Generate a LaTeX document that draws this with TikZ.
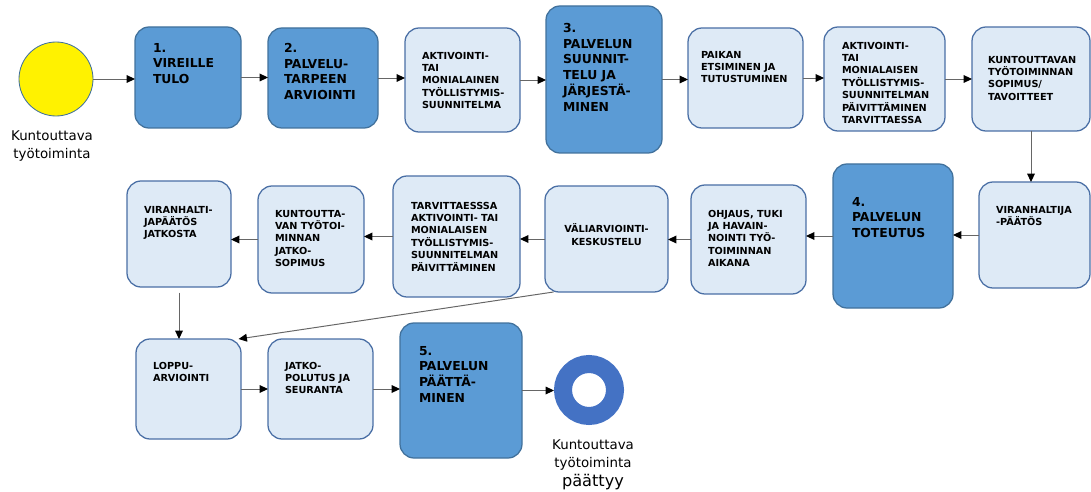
\documentclass[tikz,border=0pt]{standalone}
\usepackage{fontspec}
\setmainfont{DejaVu Sans}
\usetikzlibrary{arrows.meta}

\definecolor{darkfill}{HTML}{5B9BD5}
\definecolor{darkedge}{HTML}{41719C}
\definecolor{lightfill}{HTML}{DEEAF6}
\definecolor{lightedge}{HTML}{4A6FA5}
\definecolor{ringblue}{HTML}{4472C4}

\newdimen\pxu \pxu=0.025cm
% box text: width, height, left inset, top inset, text
\newcommand{\boxtxt}[5]{\parbox[c][#2\pxu][t]{#1\pxu}{\vspace*{#4\pxu}\leftskip=#3\pxu\rightskip=0pt plus 1fil\parindent=0pt\relax #5}}

\tikzset{
	stage/.style={rounded corners=10pt, line width=0.9pt, inner sep=0pt, outer sep=0pt},
	darkstage/.style={stage, draw=darkedge, fill=darkfill, font=\bfseries\fontsize{8.8}{11.3}\selectfont},
	lightstage/.style={stage, draw=lightedge, fill=lightfill, font=\bfseries\fontsize{6.9}{8.8}\selectfont},
	flow/.style={draw=black!60, line width=0.7pt, -{Triangle[length=6pt,width=5.5pt,color=black]}},
	caption/.style={align=center, font=\fontsize{9.5}{12.5}\selectfont},
}

\begin{document}
\begin{tikzpicture}[x=0.025cm,y=-0.025cm]
	\useasboundingbox (0,0) rectangle (1091,492);

	% start
	\node[circle, minimum size=74\pxu, inner sep=0pt, fill=yellow, draw=darkedge, line width=0.6pt] (start) at (56,79) {};
	\node[caption] (startlbl) at (52,146) {Kuntouttava\\työtoiminta};

	% first row
	\node[darkstage] (vireille) at (188,77.5) {\boxtxt{106}{101}{18}{16}{1.\\VIREILLE\\TULO}};
	\node[darkstage] (tarve) at (323,78) {\boxtxt{110}{100}{16}{15}{2.\\PALVELU-\\TARPEEN\\ARVIOINTI}};
	\node[lightstage] (aktiv) at (462.5,80) {\boxtxt{115}{104}{17}{24}{AKTIVOINTI-\\TAI\\MONIALAINEN\\TYÖLLISTYMIS-\\SUUNNITELMA}};
	\node[darkstage] (suunn) at (604,79.5) {\boxtxt{116}{147}{17}{17}{3.\\PALVELUN\\SUUNNIT-\\TELU JA\\JÄRJESTÄ-\\MINEN}};
	\node[lightstage] (paikka) at (745.5,78) {\boxtxt{115}{100}{13}{23}{PAIKAN\\ETSIMINEN JA\\TUTUSTUMINEN}};
	\node[lightstage] (paivit) at (884.5,79) {\boxtxt{121}{104}{18}{15}{AKTIVOINTI-\\TAI\\MONIALAISEN\\TYÖLLISTYMIS-\\SUUNNITELMAN\\PÄIVITTÄMINEN\\TARVITTAESSA}};
	\node[lightstage] (sopimus) at (1031,79) {\boxtxt{118}{104}{16}{29}{KUNTOUTTAVAN\\TYÖTOIMINNAN\\SOPIMUS/\\TAVOITTEET}};

	% second row
	\node[lightstage] (paatos) at (1034.5,235) {\boxtxt{111}{106}{17}{24}{VIRANHALTIJA\\-PÄÄTÖS}};
	\node[darkstage] (toteutus) at (893,236) {\boxtxt{120}{144}{19}{33}{4.\\PALVELUN\\TOTEUTUS}};
	\node[lightstage] (ohjaus) at (748.5,239.5) {\boxtxt{115}{109}{17}{25}{OHJAUS, TUKI\\JA HAVAIN-\\NOINTI TYÖ-\\TOIMINNAN\\AIKANA}};
	\node[lightstage] (vali) at (606.5,239) {\boxtxt{123}{106}{0}{38}{\centering VÄLIARVIOINTI-\\KESKUSTELU}};
	\node[lightstage] (tarvit) at (456.5,236.5) {\boxtxt{127}{121}{18}{26}{TARVITTAESSSA\\AKTIVOINTI- TAI\\MONIALAISEN\\TYÖLLISTYMIS-\\SUUNNITELMAN\\PÄIVITTÄMINEN}};
	\node[lightstage] (jatkosop) at (311,239.5) {\boxtxt{106}{107}{17}{24}{KUNTOUTTA-\\VAN TYÖTOI-\\MINNAN\\JATKO-\\SOPIMUS}};
	\node[lightstage] (jatkopaat) at (179,234) {\boxtxt{104}{106}{17}{25}{VIRANHALTI-\\JAPÄÄTÖS\\JATKOSTA}};

	% third row
	\node[lightstage] (loppu) at (188.5,389) {\boxtxt{105}{100}{17}{23}{LOPPU-\\ARVIOINTI}};
	\node[lightstage] (seuranta) at (320.5,389) {\boxtxt{105}{100}{17}{23}{JATKO-\\POLUTUS JA\\SEURANTA}};
	\node[darkstage] (paattaminen) at (461,390.5) {\boxtxt{122}{135}{19}{23}{5.\\PALVELUN\\PÄÄTTÄ-\\MINEN}};

	% end
	\node[circle, minimum size=52\pxu, inner sep=0pt, draw=ringblue, line width=18\pxu] (finish) at (589,390) {};
	\node[caption] (finishlbl) at (593,465) {Kuntouttava\\työtoiminta\\[1pt]{\fontsize{11.5}{14}\selectfont päättyy}};

	% arrows
	\draw[flow] (start.east) -- (start.east -| vireille.west);
	\draw[flow] (vireille.east) -- (vireille.east -| tarve.west);
	\draw[flow] (tarve.east) -- (tarve.east -| aktiv.west);
	\draw[flow] (aktiv.east) -- (aktiv.east -| suunn.west);
	\draw[flow] (suunn.east) -- (suunn.east -| paikka.west);
	\draw[flow] (paikka.east) -- (paikka.east -| paivit.west);
	\draw[flow] (paivit.east) -- (paivit.east -| sopimus.west);
	\draw[flow] (sopimus.south) -- (sopimus.south |- paatos.north);
	\draw[flow] (paatos.west) -- (paatos.west -| toteutus.east);
	\draw[flow] (toteutus.west) -- (toteutus.west -| ohjaus.east);
	\draw[flow] (ohjaus.west) -- (ohjaus.west -| vali.east);
	\draw[flow] (vali.west) -- (vali.west -| tarvit.east);
	\draw[flow] (tarvit.west) -- (tarvit.west -| jatkosop.east);
	\draw[flow] (jatkosop.west) -- (jatkosop.west -| jatkopaat.east);
	\draw[flow, shorten <=4pt] (jatkopaat.south) -- (jatkopaat.south |- loppu.north);
	\draw[flow] (vali.-135) -- (loppu.45);
	\draw[flow] (loppu.east) -- (loppu.east -| seuranta.west);
	\draw[flow] (seuranta.east) -- (seuranta.east -| paattaminen.west);
	\draw[flow] (paattaminen.east) -- (paattaminen.east -| finish.west);
\end{tikzpicture}
\end{document}
